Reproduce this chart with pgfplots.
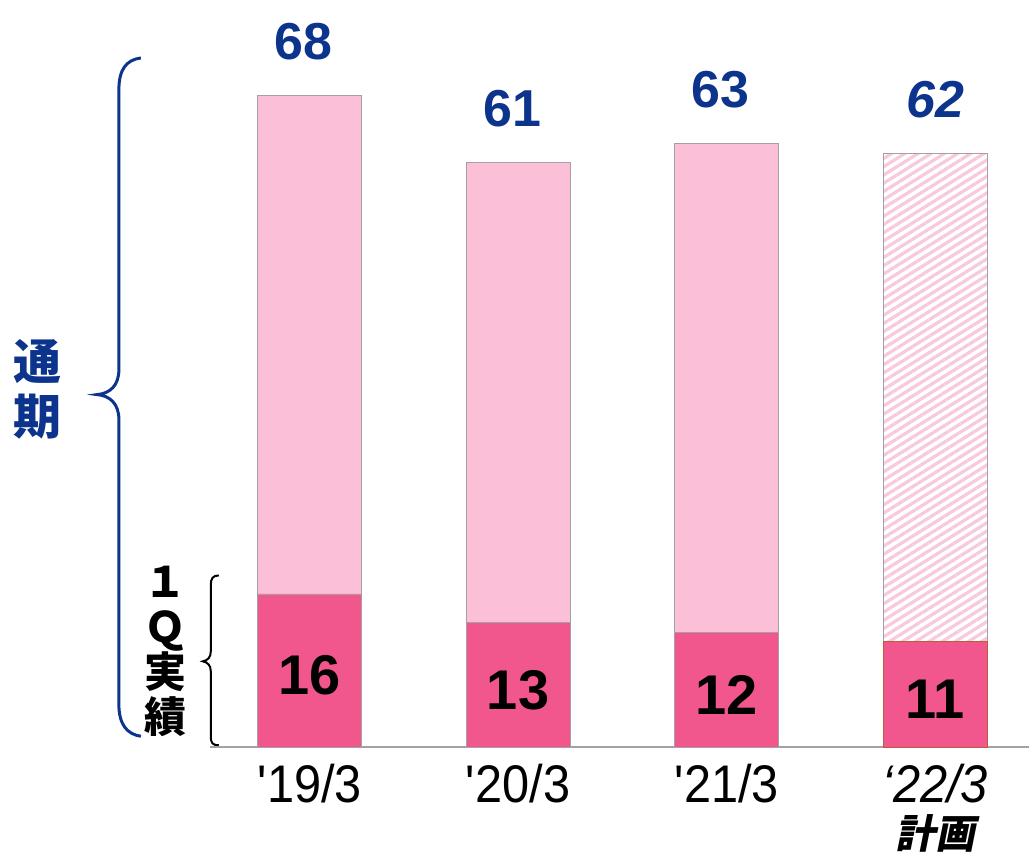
\documentclass[border=0pt]{standalone}
\usepackage{fontspec}
\setmainfont{Liberation Sans}
\newfontfamily\cjk{Noto Sans CJK JP}
\newfontfamily\cjkit{Noto Sans CJK JP}[FakeSlant=0.2]
\newfontfamily\narrow{Liberation Sans}[FakeStretch=0.92]
\usepackage{pgfplots}
\pgfplotsset{compat=1.18}
\usetikzlibrary{patterns.meta}

\definecolor{lightpink}{RGB}{251,192,216}
\definecolor{hatchpink}{RGB}{248,200,220}
\definecolor{darkpink}{RGB}{241,86,141}
\definecolor{textblue}{RGB}{12,52,140}
\definecolor{edgegray}{RGB}{165,160,162}
\definecolor{edgebrown}{RGB}{185,95,55}

\begin{document}
\begin{tikzpicture}
% frame in reference pixels: (X,Y) -> ((X-210)/2 pt, (748-Y)/2 pt)
\begin{scope}[x=0.5pt, y=-0.5pt, xshift=-105pt, yshift=374pt]
  \path (0,0) rectangle (1030,857);
  \node[font=\cjk\bfseries\fontsize{24}{27.5}\selectfont, text=textblue, align=center] at (38,390) {通\\期};
  \node[font=\cjk\bfseries\fontsize{21}{22.5}\selectfont, align=center] at (166,652) {１\\Ｑ\\実\\績};
  \draw[textblue, line width=1.5pt] (141,58) .. controls (126,60) and (119,70) .. (119,90) -- (119,370)
    .. controls (119,386) and (110,394) .. (97,395) .. controls (110,396) and (119,404) .. (119,420)
    -- (119,705) .. controls (119,725) and (127,735) .. (141,737);
  \draw[black, line width=1pt] (219,576) .. controls (213,576) and (211,579) .. (211,586) -- (211,652)
    .. controls (211,658) and (208,661) .. (203,662) .. controls (208,663) and (211,666) .. (211,672)
    -- (211,737) .. controls (211,744) and (213,746) .. (219,746);
\end{scope}

\begin{axis}[
  at={(0,0)}, anchor=south west,
  scale only axis, width=410pt, height=374pt,
  xmin=-0.478, xmax=3.45, ymin=0, ymax=78,
  axis x line=bottom, axis y line=none,
  x axis line style={-, draw=edgegray, line width=1pt},
  xtick={0,1,2,3},
  xticklabels={{\textquotesingle 19/3},{\textquotesingle 20/3},{\textquotesingle 21/3},
    {\itshape\textquoteleft 22/3\\{\cjkit\bfseries\fontsize{20}{23}\selectfont 計画}}},
  major tick length=0pt,
  xticklabel style={font=\narrow\fontsize{26.5}{23}\selectfont, anchor=north, yshift=-5pt, align=center},
  ytick=\empty,
  clip=false,
  /pgf/number format/assume math mode=true,
]
% full-year totals
\addplot[ybar, bar width=52pt, bar shift=0pt, fill=lightpink, draw=edgegray,
  nodes near coords, point meta=y,
  every node near coord/.style={anchor=base, yshift=18pt, xshift=-3pt, text=textblue,
    font=\bfseries\fontsize{26}{30}\selectfont}]
  coordinates {(0,68) (1,61) (2,63)};
\addplot[ybar, bar width=52pt, bar shift=0pt, draw=edgegray,
  pattern={Lines[angle=32, distance=3.5pt, line width=1.6pt]}, pattern color=hatchpink,
  nodes near coords, point meta=y,
  every node near coord/.style={anchor=base, yshift=18pt, text=textblue,
    font=\bfseries\itshape\fontsize{26}{30}\selectfont}]
  coordinates {(3,62)};
% 1Q results
\addplot[ybar, bar width=52pt, bar shift=0pt, fill=darkpink, draw=edgegray,
  nodes near coords, point meta=y, visualization depends on=y \as \rawy,
  every node near coord/.style={anchor=center, shift={(axis direction cs:0,{-0.5*\rawy-0.5})},
    text=black, font=\bfseries\fontsize{28}{30}\selectfont}]
  coordinates {(0,16) (1,13) (2,12)};
\addplot[ybar, bar width=52pt, bar shift=0pt, fill=darkpink, draw=edgebrown,
  nodes near coords, point meta=y, visualization depends on=y \as \rawy,
  every node near coord/.style={anchor=center, shift={(axis direction cs:0,{-0.5*\rawy-0.5})},
    text=black, font=\bfseries\fontsize{28}{30}\selectfont}]
  coordinates {(3,11)};
\end{axis}
\end{tikzpicture}
\end{document}
